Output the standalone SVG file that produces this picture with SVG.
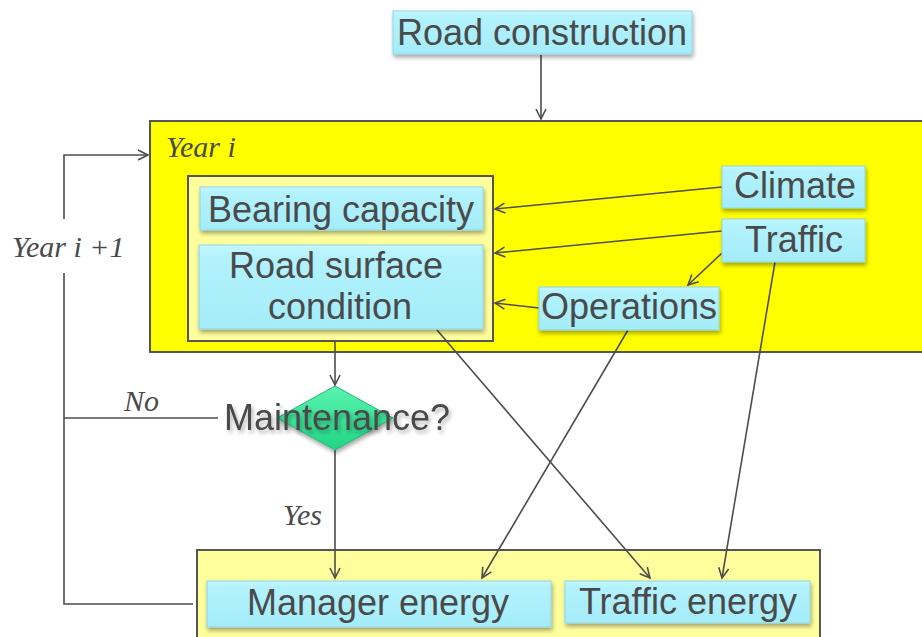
<svg xmlns="http://www.w3.org/2000/svg" width="922" height="637" viewBox="0 0 922 637">
<defs>
<linearGradient id="cyan" x1="0" y1="0" x2="0" y2="1">
<stop offset="0" stop-color="#c4f6fe"/>
<stop offset="0.15" stop-color="#b2f2fd"/>
<stop offset="1" stop-color="#a4ecf9"/>
</linearGradient>
<linearGradient id="green" x1="0" y1="0" x2="0" y2="1">
<stop offset="0" stop-color="#5cf3b0"/>
<stop offset="1" stop-color="#1fd684"/>
</linearGradient>
<filter id="sh" x="-10%" y="-20%" width="120%" height="150%">
<feGaussianBlur in="SourceAlpha" stdDeviation="2"/>
<feOffset dx="1" dy="3" result="b"/>
<feComponentTransfer><feFuncA type="linear" slope="0.35"/></feComponentTransfer>
<feMerge><feMergeNode/><feMergeNode in="SourceGraphic"/></feMerge>
</filter>
<filter id="tsh" x="-10%" y="-30%" width="120%" height="160%">
<feGaussianBlur in="SourceAlpha" stdDeviation="2"/>
<feOffset dx="2" dy="3"/>
<feComponentTransfer><feFuncA type="linear" slope="0.3"/></feComponentTransfer>
<feMerge><feMergeNode/><feMergeNode in="SourceGraphic"/></feMerge>
</filter>
<marker id="arr" markerWidth="14" markerHeight="14" refX="11" refY="6" orient="auto" markerUnits="userSpaceOnUse">
<path d="M1,1 L11,6 L1,11" fill="none" stroke="#4d4d4d" stroke-width="1.6"/>
</marker>
</defs>
<style>
.box{fill:url(#cyan);stroke:#8fd6e6;stroke-width:1;filter:url(#sh)}
.lbl{font-family:"Liberation Sans",Arial,sans-serif;font-size:36px;fill:#4a4a4a;text-anchor:middle}
.it{font-family:"Liberation Serif","Times New Roman",serif;font-style:italic;font-size:30px;fill:#4a4a4a}
.con{fill:none;stroke:#4d4d4d;stroke-width:1.6}
.frame{stroke:#555555;stroke-width:2}
</style>
<rect width="922" height="637" fill="#ffffff"/>

<g id="year-i">
<rect class="frame" x="150" y="121" width="790" height="231" fill="#ffff00"/>
<text class="it" x="166" y="157">Year i</text>
</g>
<g id="state-group">
<rect class="frame" x="188" y="176" width="305" height="165" fill="#fffe9c"/>
</g>
<g id="energy-group">
<rect class="frame" x="197" y="550" width="623" height="100" fill="#fffe9c"/>
</g>

<g id="connectors">
<line class="con" x1="541" y1="55" x2="541" y2="119" marker-end="url(#arr)"/>
<line class="con" x1="722" y1="187" x2="495" y2="209" marker-end="url(#arr)"/>
<line class="con" x1="722" y1="231" x2="495" y2="253" marker-end="url(#arr)"/>
<line class="con" x1="722" y1="253" x2="688" y2="285" marker-end="url(#arr)"/>
<line class="con" x1="539" y1="308" x2="495" y2="303" marker-end="url(#arr)"/>
<line class="con" x1="335" y1="341" x2="335" y2="385" marker-end="url(#arr)"/>
<line class="con" x1="335" y1="450" x2="335" y2="578" marker-end="url(#arr)"/>
<line class="con" x1="628" y1="330" x2="482" y2="578" marker-end="url(#arr)"/>
<line class="con" x1="437" y1="330" x2="650" y2="578" marker-end="url(#arr)"/>
<line class="con" x1="775" y1="262" x2="722" y2="578" marker-end="url(#arr)"/>
<polyline class="con" points="218,418 64,418"/>
<polyline class="con" points="64,219 64,155 148,155" marker-end="url(#arr)"/>
<polyline class="con" points="193,604 64,604 64,273"/>
<text class="it" x="12" y="257">Year i +1</text>
<text class="it" x="124" y="411">No</text>
<text class="it" x="283" y="525">Yes</text>
</g>

<g id="road-construction">
<rect class="box" x="393" y="11" width="299" height="43"/>
<text class="lbl" x="542" y="45">Road construction</text>
</g>
<g id="bearing-capacity">
<rect class="box" x="200" y="187" width="283" height="43"/>
<text class="lbl" x="341" y="222">Bearing capacity</text>
</g>
<g id="road-surface-condition">
<rect class="box" x="199" y="245" width="284" height="84"/>
<text class="lbl" x="336" y="278">Road surface</text>
<text class="lbl" x="340" y="319">condition</text>
</g>
<g id="climate">
<rect class="box" x="722" y="166" width="143" height="42"/>
<text class="lbl" x="795" y="198">Climate</text>
</g>
<g id="traffic">
<rect class="box" x="722" y="219" width="143" height="43"/>
<text class="lbl" x="794" y="252">Traffic</text>
</g>
<g id="operations">
<rect class="box" x="539" y="287" width="180" height="43"/>
<text class="lbl" x="629" y="319">Operations</text>
</g>
<g id="maintenance">
<polygon points="335,386 393,418 335,450 277,418" fill="url(#green)" stroke="#22b873" stroke-width="1" filter="url(#sh)"/>
<text class="lbl" x="337" y="430" filter="url(#tsh)">Maintenance?</text>
</g>
<g id="manager-energy">
<rect class="box" x="207" y="581" width="344" height="46"/>
<text class="lbl" x="378" y="615">Manager energy</text>
</g>
<g id="traffic-energy">
<rect class="box" x="565" y="581" width="245" height="42"/>
<text class="lbl" x="688" y="614">Traffic energy</text>
</g>
</svg>
